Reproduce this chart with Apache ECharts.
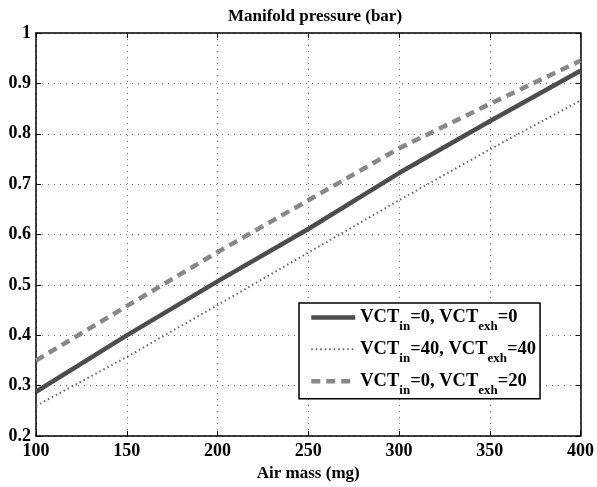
<!DOCTYPE html>
<html>
<head>
<meta charset="utf-8">
<script src="https://cdn.jsdelivr.net/npm/echarts@6/dist/echarts.min.js"></script>
<style>html,body{margin:0;padding:0;background:#fff;}#c{width:597px;height:487px;}</style>
</head>
<body>
<div id="c"></div>
<script>
const airMass = [100, 150, 200, 250, 300, 350, 400];
const vct0_0 = [0.288, 0.400, 0.507, 0.611, 0.722, 0.825, 0.925];
const vct40_40 = [0.260, 0.357, 0.460, 0.564, 0.668, 0.769, 0.866];
const vct0_20 = [0.350, 0.458, 0.565, 0.668, 0.771, 0.859, 0.945];
const seriesNames = ['s1', 's2', 's3'];
const legendParts = [['0', '0'], ['40', '40'], ['0', '20']];

const FF = '"Liberation Serif", "Times New Roman", serif';
const pairs = a => airMass.map((x, i) => [x, a[i]]);

const chart = echarts.init(document.getElementById('c'), null, {renderer: 'canvas'});
const axisCommon = {
  axisLine: {show: true, lineStyle: {color: '#000', width: 1.5}},
  axisTick: {show: true, inside: true, length: 5, lineStyle: {color: '#000', width: 1}},
};
chart.setOption({
  animation: false,
  backgroundColor: '#fff',
  title: {
    text: 'Manifold pressure (bar)', left: 310, top: 3, textAlign: 'center',
    textStyle: {fontFamily: FF, fontSize: 17, fontWeight: 'bold', color: '#000'}
  },
  grid: {left: 36, top: 33, right: 13, bottom: 50, containLabel: false},
  xAxis: [{
    type: 'value', min: 100, max: 400, interval: 50,
    name: 'Air mass (mg)', nameLocation: 'middle', nameGap: 26,
    nameTextStyle: {fontFamily: FF, fontSize: 17, fontWeight: 'bold', color: '#000'},
    ...axisCommon,
    axisLabel: {fontFamily: FF, fontSize: 18, fontWeight: 'bold', color: '#000', margin: 6},
    splitLine: {show: true, lineStyle: {color: '#777', type: [1, 5], width: 1}}
  }, {
    type: 'value', min: 100, max: 400, interval: 50, position: 'top',
    ...axisCommon, axisLabel: {show: false}, splitLine: {show: false}
  }],
  yAxis: [{
    type: 'value', min: 0.2, max: 1, interval: 0.1,
    ...axisCommon,
    axisLabel: {fontFamily: FF, fontSize: 18, fontWeight: 'bold', color: '#000', margin: 5},
    splitLine: {show: true, lineStyle: {color: '#777', type: [1, 5], width: 1}}
  }, {
    type: 'value', min: 0.2, max: 1, interval: 0.1, position: 'right',
    ...axisCommon, axisLabel: {show: false}, splitLine: {show: false}
  }],
  legend: {
    orient: 'vertical', left: 299, top: 303,
    backgroundColor: '#fff', borderColor: '#000', borderWidth: 1.5, borderRadius: 0,
    padding: [4, 4, 2, 10], itemGap: 6, itemWidth: 44, itemHeight: 26,
    itemStyle: {opacity: 0, borderWidth: 0},
    data: [
      {name: seriesNames[0], lineStyle: {width: 4.5}},
      {name: seriesNames[1], lineStyle: {width: 2}},
      {name: seriesNames[2], lineStyle: {width: 4.5}}
    ],
    formatter: function (name) {
      const p = legendParts[seriesNames.indexOf(name)];
      return '{m|VCT}{s|in}{m|=' + p[0] + ', VCT}{s|exh}{m|=' + p[1] + '}';
    },
    textStyle: {
      rich: {
        m: {fontFamily: FF, fontSize: 18.5, fontWeight: 'bold', color: '#000', verticalAlign: 'top', lineHeight: 19},
        s: {fontFamily: FF, fontSize: 13, fontWeight: 'bold', color: '#000', verticalAlign: 'top', padding: [12, 0, 0, 0], lineHeight: 13}
      }
    }
  },
  series: [
    {name: 's1', type: 'line', data: pairs(vct0_0), showSymbol: false, symbol: 'none',
     lineStyle: {color: '#4d4d4d', width: 4.5, type: 'solid'}, itemStyle: {color: '#4d4d4d'}},
    {name: 's2', type: 'line', data: pairs(vct40_40), showSymbol: false, symbol: 'none',
     lineStyle: {color: '#666', width: 2, type: [1.5, 3]}, itemStyle: {color: '#666'}},
    {name: 's3', type: 'line', data: pairs(vct0_20), showSymbol: false, symbol: 'none',
     lineStyle: {color: '#888', width: 4.5, type: [9, 6]}, itemStyle: {color: '#888'}}
  ]
});
</script>
</body>
</html>
